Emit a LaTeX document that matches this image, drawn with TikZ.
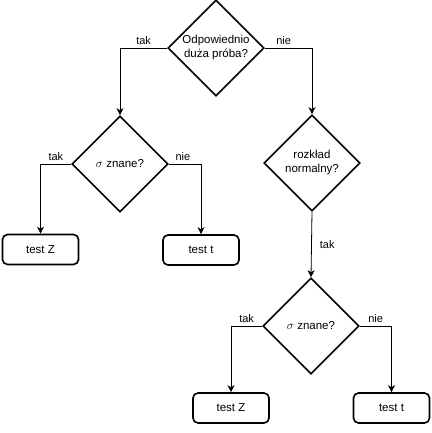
\documentclass[tikz,border=0pt]{standalone}
\usepackage{fontspec}
\setmainfont{Liberation Sans}
\usetikzlibrary{shapes.geometric,arrows.meta}
\begin{document}
\begin{tikzpicture}[x=1pt,y=-1pt,
  dec/.style={diamond, draw, line width=1.6pt, minimum size=96pt, inner sep=0pt, align=center, font=\fontsize{11.5}{14}\selectfont},
  endbox/.style={draw, rounded corners=5pt, line width=1.6pt, minimum width=76pt, minimum height=30pt, inner sep=0pt, font=\fontsize{11.5}{14}\selectfont},
  conn/.style={line width=0.8pt, -{Stealth[length=7pt,width=7pt,inset=2pt]}},
  lbl/.style={font=\fontsize{11}{13}\selectfont, inner sep=2.5pt}]
\useasboundingbox (0,0) rectangle (431,433);
\node[dec] (d1) at (216,48) {Odpowiednio\\duża próba?};
\node[dec] (d2) at (120,164) {$\sigma$ znane?};
\node[dec] (d3) at (312,163) {rozkład\\normalny?};
\node[dec] (d4) at (311,326) {$\sigma$ znane?};
\node[endbox] (z1) at (40.5,249.5) {test Z};
\node[endbox] (t1) at (201,250) {test t};
\node[endbox] (z2) at (231,408) {test Z};
\node[endbox] (t2) at (391.5,408) {test t};
\draw[conn] (d1.west) -| node[lbl, pos=0.25, above] {tak} (d2.north);
\draw[conn] (d1.east) -| node[lbl, pos=0.2, above] {nie} (d3.north);
\draw[conn] (d2.west) -| node[lbl, pos=0.25, above] {tak} (z1.north);
\draw[conn] (d2.east) -| node[lbl, pos=0.22, above] {nie} (t1.north);
\draw[conn] (d3.south) -- node[lbl, right, inner sep=8pt] {tak} (d4.north);
\draw[conn] (d4.west) -| node[lbl, pos=0.25, above] {tak} (z2.north);
\draw[conn] (d4.east) -| node[lbl, pos=0.25, above] {nie} (t2.north);
\end{tikzpicture}
\end{document}
